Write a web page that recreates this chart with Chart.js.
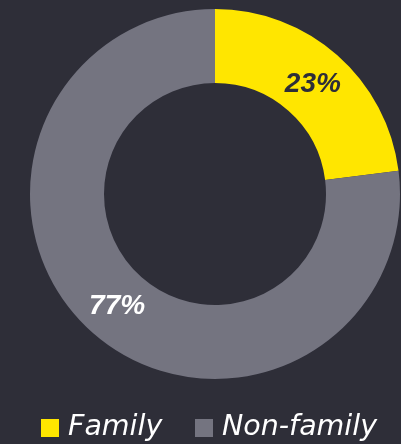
<!DOCTYPE html>
<html>
<head>
<meta charset="utf-8">
<script src="https://cdn.jsdelivr.net/npm/chart.js@4"></script>
<style>
  html, body { margin: 0; padding: 0; background: #2e2e38; }
  #wrap { position: relative; width: 401px; height: 444px; overflow: hidden; }
  canvas { position: absolute; left: 0; top: 0; }
  .legend { position: absolute; top: 407px; left: 0; width: 401px; height: 37px;
            font-family: "DejaVu Sans", sans-serif; font-style: oblique; font-size: 28.5px; color: #ffffff; }
  .item { position: absolute; top: 0; white-space: nowrap; }
  .sw { position: absolute; width: 18px; height: 18px; top: 12px; }
  .lbl { position: absolute; left: 27px; top: 0; line-height: 37px; }
</style>
</head>
<body>
<div id="wrap">
  <canvas id="grafico" width="401" height="444"></canvas>
  <div class="legend" id="legenda"></div>
</div>
<script>
// ===== DADOS =====
const categorias = ['Family', 'Non-family'];
const valores = [23, 77];
const cores = ['#ffe600', '#747480'];
const coresTexto = ['#2e2e38', '#ffffff'];
const legendaX = [41, 195];

// ===== LEGENDA HTML =====
document.getElementById('legenda').innerHTML = categorias.map((c, i) => `
  <div class="item" style="left:${legendaX[i]}px">
    <span class="sw" style="background:${cores[i]}"></span>
    <span class="lbl">${c}</span>
  </div>
`).join('');

// ===== RÓTULOS DE PERCENTUAL =====
const rotulos = {
  id: 'rotulos',
  afterDatasetsDraw(chart) {
    const ctx = chart.ctx;
    const meta = chart.getDatasetMeta(0);
    ctx.save();
    ctx.font = 'italic bold 28px "Liberation Sans", sans-serif';
    ctx.textAlign = 'center';
    ctx.textBaseline = 'middle';
    meta.data.forEach((arc, i) => {
      const p = arc.tooltipPosition();
      ctx.fillStyle = coresTexto[i];
      ctx.fillText(valores[i] + '%', p.x, p.y + 1);
    });
    ctx.restore();
  }
};

new Chart(document.getElementById('grafico').getContext('2d'), {
  type: 'doughnut',
  data: {
    labels: categorias,
    datasets: [{
      data: valores,
      backgroundColor: cores,
      borderWidth: 0,
      hoverOffset: 0
    }]
  },
  options: {
    responsive: false,
    animation: false,
    cutout: '60%',
    layout: { padding: { left: 30, right: 1, top: 9, bottom: 65 } },
    plugins: {
      legend: { display: false },
      tooltip: { enabled: false }
    }
  },
  plugins: [rotulos]
});
</script>
</body>
</html>
